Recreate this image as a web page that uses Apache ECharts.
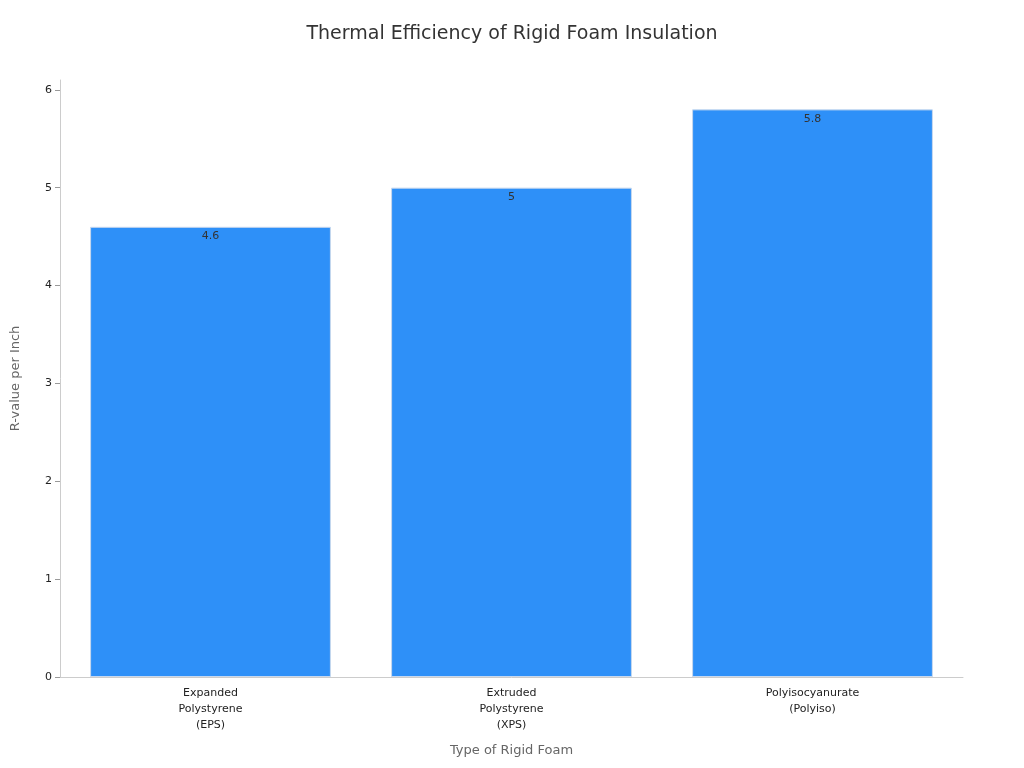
<!DOCTYPE html>
<html><head><meta charset="utf-8">
<script src="https://cdn.jsdelivr.net/npm/echarts@6/dist/echarts.min.js"></script>
<style>html,body{margin:0;padding:0;background:#fff}#c{width:1024px;height:768px}</style>
</head><body><div id="c"></div>
<script>
const categories = ["Expanded\nPolystyrene\n(EPS)", "Extruded\nPolystyrene\n(XPS)", "Polyisocyanurate\n(Polyiso)"];
const rValues = [4.6, 5, 5.8];
const chart = echarts.init(document.getElementById('c'));
chart.setOption({
  animation: false,
  textStyle: {fontFamily: 'DejaVu Sans'},
  title: {text: 'Thermal Efficiency of Rigid Foam Insulation', left: 'center', top: 20,
    textStyle: {fontSize: 19, fontWeight: 'normal', color: '#333'}},
  grid: {left: 60, right: 61, top: 80, bottom: 91},
  xAxis: {type: 'category', data: categories, name: 'Type of Rigid Foam', nameLocation: 'middle', nameGap: 67,
    nameTextStyle: {fontSize: 13, color: '#666'},
    axisLine: {lineStyle: {color: '#ccc'}}, axisTick: {alignWithLabel: true, lineStyle: {color: '#999'}},
    axisLabel: {fontSize: 11, color: '#222', lineHeight: 16}},
  yAxis: {type: 'value', min: 0, max: 6.1, interval: 1, name: 'R-value per Inch', nameLocation: 'middle', nameGap: 38,
    nameTextStyle: {fontSize: 13, color: '#666'},
    axisLine: {show: true, lineStyle: {color: '#ccc'}}, axisTick: {show: true, lineStyle: {color: '#999'}},
    axisLabel: {fontSize: 11, color: '#222', showMaxLabel: false, formatter: v => Number.isInteger(v) ? v : ''},
    splitLine: {show: false}},
  series: [{type: 'bar', data: rValues, barWidth: '80%',
    itemStyle: {color: '#2E90F8', borderColor: '#c8d8ee', borderWidth: 1},
    label: {show: true, position: 'insideTop', color: '#333', fontSize: 11, offset: [0, -1]}}]
});
</script></body></html>
